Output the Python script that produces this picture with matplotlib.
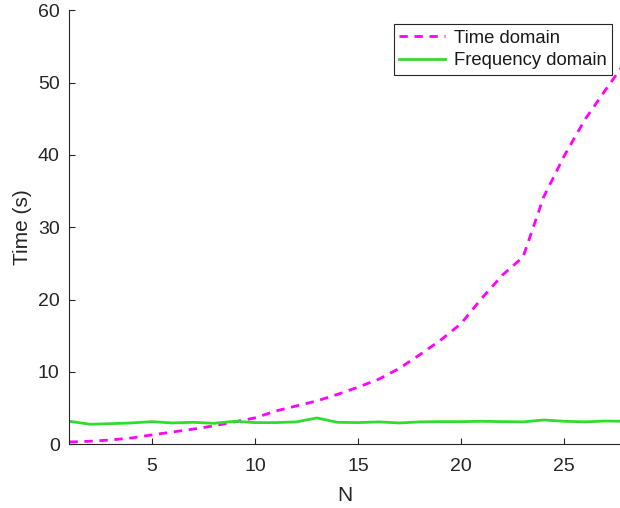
import matplotlib
matplotlib.use("Agg")
import matplotlib.pyplot as plt

plt.rcParams['font.family'] = ['Liberation Sans', 'DejaVu Sans']

N = list(range(1, 29))
time_domain = [0.32, 0.42, 0.6, 0.87, 1.3, 1.7, 2.1, 2.55, 3.1, 3.65,
               4.6, 5.3, 6.0, 6.9, 7.9, 9.0, 10.5, 12.4, 14.4, 16.7,
               20.2, 23.4, 25.9, 34.2, 39.9, 44.9, 49.0, 53.0]
freq_domain = [3.18, 2.77, 2.85, 2.95, 3.13, 2.95, 3.04, 2.9, 3.18, 3.0,
               3.0, 3.1, 3.64, 3.04, 3.0, 3.1, 2.95, 3.1, 3.13, 3.13,
               3.18, 3.13, 3.1, 3.36, 3.18, 3.1, 3.22, 3.18]
xticks = [5, 10, 15, 20, 25]
yticks = [0, 10, 20, 30, 40, 50, 60]

fig = plt.figure(figsize=(6.2, 5.08), dpi=100)
ax = fig.add_axes([0.112, 0.1254, 0.888, 0.8543])
ax.plot(N, time_domain, color='#ff00ff', linestyle=(0, (3.0, 2.4)), linewidth=2.0, label='Time domain')
ax.plot(N, freq_domain, color='#2fdc2f', linestyle='-', linewidth=2.0, label='Frequency domain')

ax.set_xlim(1, 27.7)
ax.set_ylim(0, 60)
ax.set_xticks(xticks)
ax.set_yticks(yticks)
axc = '#262626'
for side in ['top', 'right']:
    ax.spines[side].set_visible(False)
for side in ['left', 'bottom']:
    ax.spines[side].set_color(axc)
    ax.spines[side].set_linewidth(0.8)
ax.tick_params(direction='in', length=4, width=0.8, colors=axc, labelsize=14)
ax.tick_params(axis='x', pad=10)
ax.tick_params(axis='y', pad=7)
ax.set_xlabel('N', fontsize=15, color=axc, labelpad=8)
ax.set_ylabel('Time (s)', fontsize=15, color=axc, labelpad=4)

leg = ax.legend(loc='upper right', bbox_to_anchor=(0.9855, 0.9677), fontsize=13.3,
                frameon=True, fancybox=False, edgecolor=axc, framealpha=1,
                borderpad=0.3, handlelength=2.5, handletextpad=0.45, labelspacing=0.28,
                borderaxespad=0)
leg.get_frame().set_linewidth(0.8)
for t in leg.get_texts():
    t.set_color('#1a1a1a')

fig.savefig('out.png', dpi=100)
